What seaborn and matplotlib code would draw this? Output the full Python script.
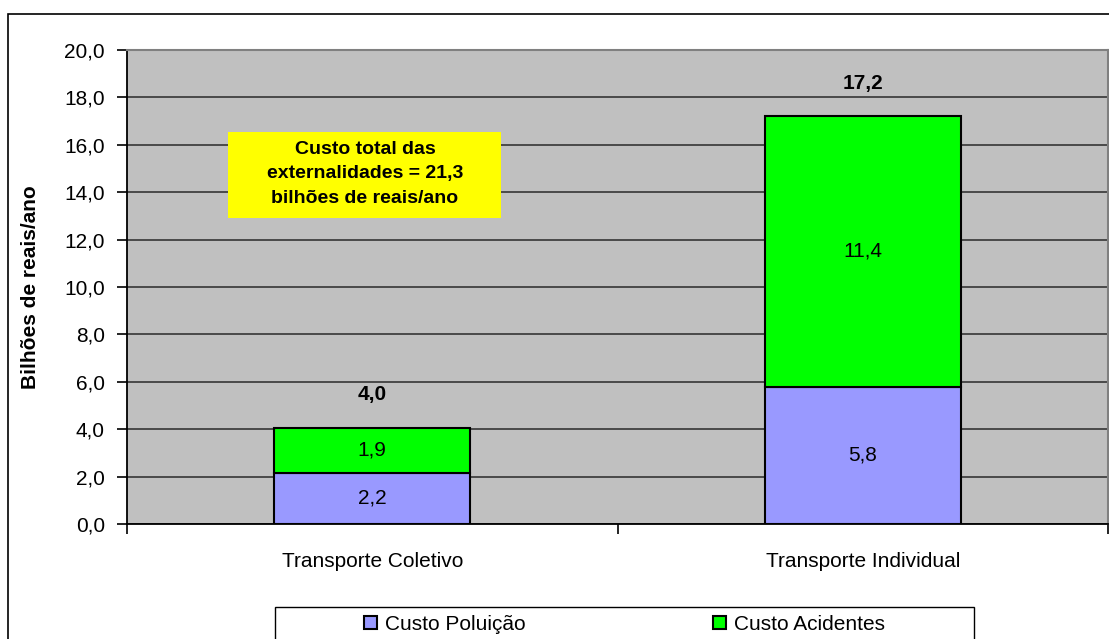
import matplotlib
matplotlib.use("Agg")
import matplotlib.pyplot as plt
from matplotlib.patches import Rectangle
import seaborn as sns

categories = ["Transporte Coletivo", "Transporte Individual"]
poluicao = [2.17, 5.8]
acidentes = [1.88, 11.4]
totais = [4.0, 17.2]
yticks = [0, 2, 4, 6, 8, 10, 12, 14, 16, 18, 20]
nota = "Custo total das\nexternalidades = 21,3\nbilhões de reais/ano"

plt.rcParams['font.family'] = ['Liberation Sans', 'DejaVu Sans']
plt.rcParams['font.size'] = 15


def fmt(v):
    return f"{v:.1f}".replace('.', ',')


fig = plt.figure(figsize=(11.09, 6.39), dpi=100)
ax = fig.add_axes([127 / 1109, 1 - 524 / 639, 981 / 1109, 474 / 639])
ax.set_facecolor('#C0C0C0')

sns.barplot(x=categories, y=poluicao, color='#9999FF', width=0.4, errorbar=None,
            edgecolor='black', linewidth=1.5, saturation=1, label='Custo Poluição', ax=ax)
sns.barplot(x=categories, y=acidentes, bottom=poluicao, color='#00FF00', width=0.4, errorbar=None,
            edgecolor='black', linewidth=1.5, saturation=1, label='Custo Acidentes', ax=ax)

ax.bar_label(ax.containers[0], labels=[fmt(v) for v in poluicao], label_type='center', fontsize=15)
ax.bar_label(ax.containers[1], labels=[fmt(v) for v in acidentes], label_type='center', fontsize=15)
ax.bar_label(ax.containers[1], labels=[fmt(v) for v in totais], padding=17, fontsize=15, fontweight='bold')

ax.set_ylim(0, 20)
ax.set_xlim(-0.5, 1.5)
ax.set_yticks(yticks)
ax.set_yticklabels([fmt(v) for v in yticks])
ax.yaxis.grid(True, color='#404040', linewidth=1.3)
ax.set_axisbelow(True)

ax.tick_params(axis='y', length=7, width=1.2, pad=9, labelsize=15)
ax.tick_params(axis='x', which='major', length=0, pad=20, labelsize=15)
ax.set_xticks([-0.5, 0.5, 1.5], minor=True)
ax.tick_params(axis='x', which='minor', length=7, width=1.2)
ax.set_xlabel('')

for s in ['left', 'bottom']:
    ax.spines[s].set_color('black')
    ax.spines[s].set_linewidth(1.3)
for s in ['top', 'right']:
    ax.spines[s].set_color('#808080')
    ax.spines[s].set_linewidth(1.5)

ax.set_ylabel('Bilhões de reais/ano', fontsize=15, fontweight='bold')
ax.yaxis.set_label_coords(-0.089, 0.5)

# caixa amarela
ax.add_patch(Rectangle((101 / 981, (524 - 218) / 474), 273 / 981, 86 / 474,
                       transform=ax.transAxes, facecolor='#FFFF00', edgecolor='none', zorder=3))
ax.text(238 / 981, (524 - 174) / 474, nota, transform=ax.transAxes, ha='center', va='center',
        fontsize=14, fontweight='bold', linespacing=1.55, zorder=4)

# moldura externa
fig.patches.append(Rectangle((8 / 1109, -0.1), 1.2, 1.1 - 14 / 639, transform=fig.transFigure,
                             facecolor='none', edgecolor='black', linewidth=1.2))

# legenda
handles, labels = ax.get_legend_handles_labels()
if ax.get_legend() is not None:
    ax.get_legend().remove()
fig.patches.append(Rectangle((275 / 1109, -0.1), 699 / 1109, 0.1 + 1 - 607 / 639, transform=fig.transFigure,
                             facecolor='white', edgecolor='black', linewidth=1))
fig.legend(handles, labels, loc='center', bbox_to_anchor=(624.5 / 1109, 1 - 624 / 639), ncol=2,
           frameon=False, fontsize=15, handlelength=0.6, handleheight=0.6, handletextpad=0.4,
           columnspacing=9.0, borderpad=0)

fig.savefig('out.png', dpi=100)
